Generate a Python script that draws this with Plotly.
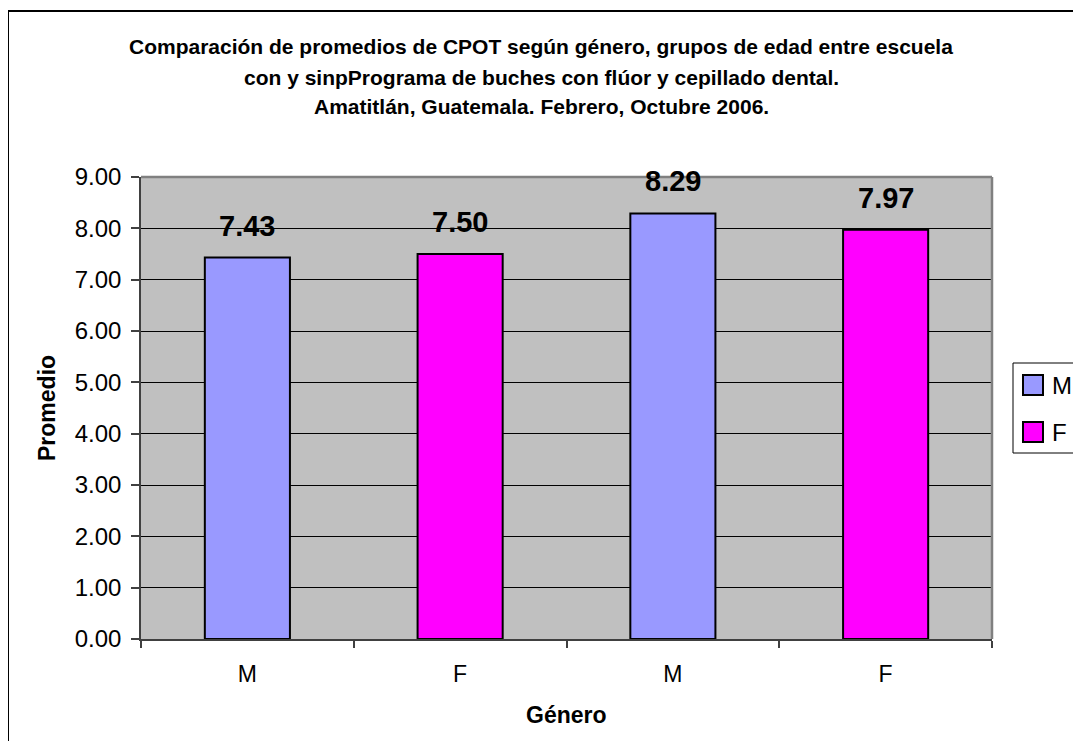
import plotly.graph_objects as go

# ---- data ----
categories = ["M", "F", "M", "F"]
values = [7.43, 7.50, 8.29, 7.97]
series_names = ["M", "F"]
series_colors = {"M": "#9999FF", "F": "#FF00FF"}
y_ticks = [0, 1, 2, 3, 4, 5, 6, 7, 8, 9]
title_lines = [
    "Comparación de promedios de CPOT según género, grupos de edad entre escuela",
    "con y sinpPrograma de buches con flúor y cepillado dental.",
    "Amatitlán, Guatemala. Febrero, Octubre 2006.",
]
x_title = "Género"
y_title = "Promedio"

# page offset of the plot div (default body margin)
OFF = 8
W, H = 1065, 733
# plot area in page pixels: x 141..992, y 177..639
L, T = 141 - OFF, 177 - OFF
R = W - (992 - OFF)
B = H - (639 - OFF)
PW, PH = W - L - R, H - T - B
FONT = "Arial, Liberation Sans, sans-serif"


def px(x):  # page pixel -> paper x
    return (x - OFF - L) / PW


def py(y):  # page pixel -> paper y
    return (H - B - (y - OFF)) / PH


fig = go.Figure()
for s in series_names:
    xs = [i for i, c in enumerate(categories) if c == s]
    ys = [values[i] for i in xs]
    fig.add_trace(go.Bar(
        x=xs, y=ys, name=s, width=0.4,
        marker=dict(color=series_colors[s], line=dict(color="black", width=2)),
        showlegend=False,
    ))

annotations = []
# data labels
for i, v in enumerate(values):
    annotations.append(dict(
        x=i, y=v, xref="x", yref="y", text=f"<b>{v:.2f}</b>", showarrow=False,
        yanchor="bottom", yshift=14, font=dict(family=FONT, size=29, color="black"),
    ))
# title lines
for line, ycen in zip(title_lines, [46, 77, 107]):
    annotations.append(dict(
        x=px(541), y=py(ycen), xref="paper", yref="paper", text=f"<b>{line}</b>",
        showarrow=False, xanchor="center", yanchor="middle",
        font=dict(family=FONT, size=21, color="black"),
    ))
# axis titles
annotations.append(dict(
    x=px(566), y=py(715), xref="paper", yref="paper", text=f"<b>{x_title}</b>",
    showarrow=False, xanchor="center", yanchor="middle",
    font=dict(family=FONT, size=23, color="black"),
))
annotations.append(dict(
    x=px(47), y=py(408), xref="paper", yref="paper", text=f"<b>{y_title}</b>",
    showarrow=False, xanchor="center", yanchor="middle", textangle=-90,
    font=dict(family=FONT, size=23, color="black"),
))

shapes = []
# outer chart frame (extends beyond the visible canvas on right/bottom)
shapes.append(dict(type="rect", xref="paper", yref="paper",
                   x0=px(8), x1=px(1120), y0=py(790), y1=py(11),
                   line=dict(color="black", width=2), layer="below"))
# plot area top/right border in gray
shapes.append(dict(type="line", xref="paper", yref="paper", x0=0, x1=1, y0=1, y1=1,
                   line=dict(color="#808080", width=2.5)))
shapes.append(dict(type="line", xref="paper", yref="paper", x0=1, x1=1, y0=0, y1=1,
                   line=dict(color="#808080", width=2.5)))
# legend (manual)
shapes.append(dict(type="rect", xref="paper", yref="paper",
                   x0=px(1013), x1=px(1130), y0=py(453), y1=py(363),
                   line=dict(color="black", width=1), fillcolor="white"))
for s, yc in zip(series_names, [385, 432]):
    shapes.append(dict(type="rect", xref="paper", yref="paper",
                       x0=px(1023), x1=px(1043), y0=py(yc + 10), y1=py(yc - 10),
                       line=dict(color="black", width=2), fillcolor=series_colors[s]))
    annotations.append(dict(
        x=px(1050), y=py(yc), xref="paper", yref="paper", text=s, showarrow=False,
        xanchor="left", yanchor="middle", font=dict(family=FONT, size=24, color="black"),
    ))

fig.update_layout(
    width=W, height=H,
    margin=dict(l=L, r=R, t=T, b=B, pad=0),
    paper_bgcolor="white", plot_bgcolor="#C0C0C0",
    font=dict(family=FONT, color="black"),
    bargap=0.6,
    showlegend=False,
    annotations=annotations,
    shapes=shapes,
)
fig.update_xaxes(
    range=[-0.5, 3.5], tickmode="array", tickvals=list(range(len(categories))),
    ticktext=categories, ticks="", showgrid=False, zeroline=False,
    showline=True, linecolor="#404040", linewidth=1.5,
    tickfont=dict(family=FONT, size=23, color="black"),
    ticklabelstandoff=14,
    minor=dict(tickmode="array", tickvals=[i - 0.5 for i in range(len(categories) + 1)],
               ticks="outside", ticklen=7, tickcolor="#404040", tickwidth=1.5, showgrid=False),
)
fig.update_yaxes(
    range=[0, 9], tickmode="array", tickvals=y_ticks, tickformat=".2f",
    ticks="outside", ticklen=8, tickcolor="#404040", tickwidth=1.5,
    showgrid=True, gridcolor="black", gridwidth=1, zeroline=False,
    showline=True, linecolor="#404040", linewidth=1.5,
    tickfont=dict(family=FONT, size=24, color="black"),
    ticklabelstandoff=5,
)

fig.write_html("out.html")
